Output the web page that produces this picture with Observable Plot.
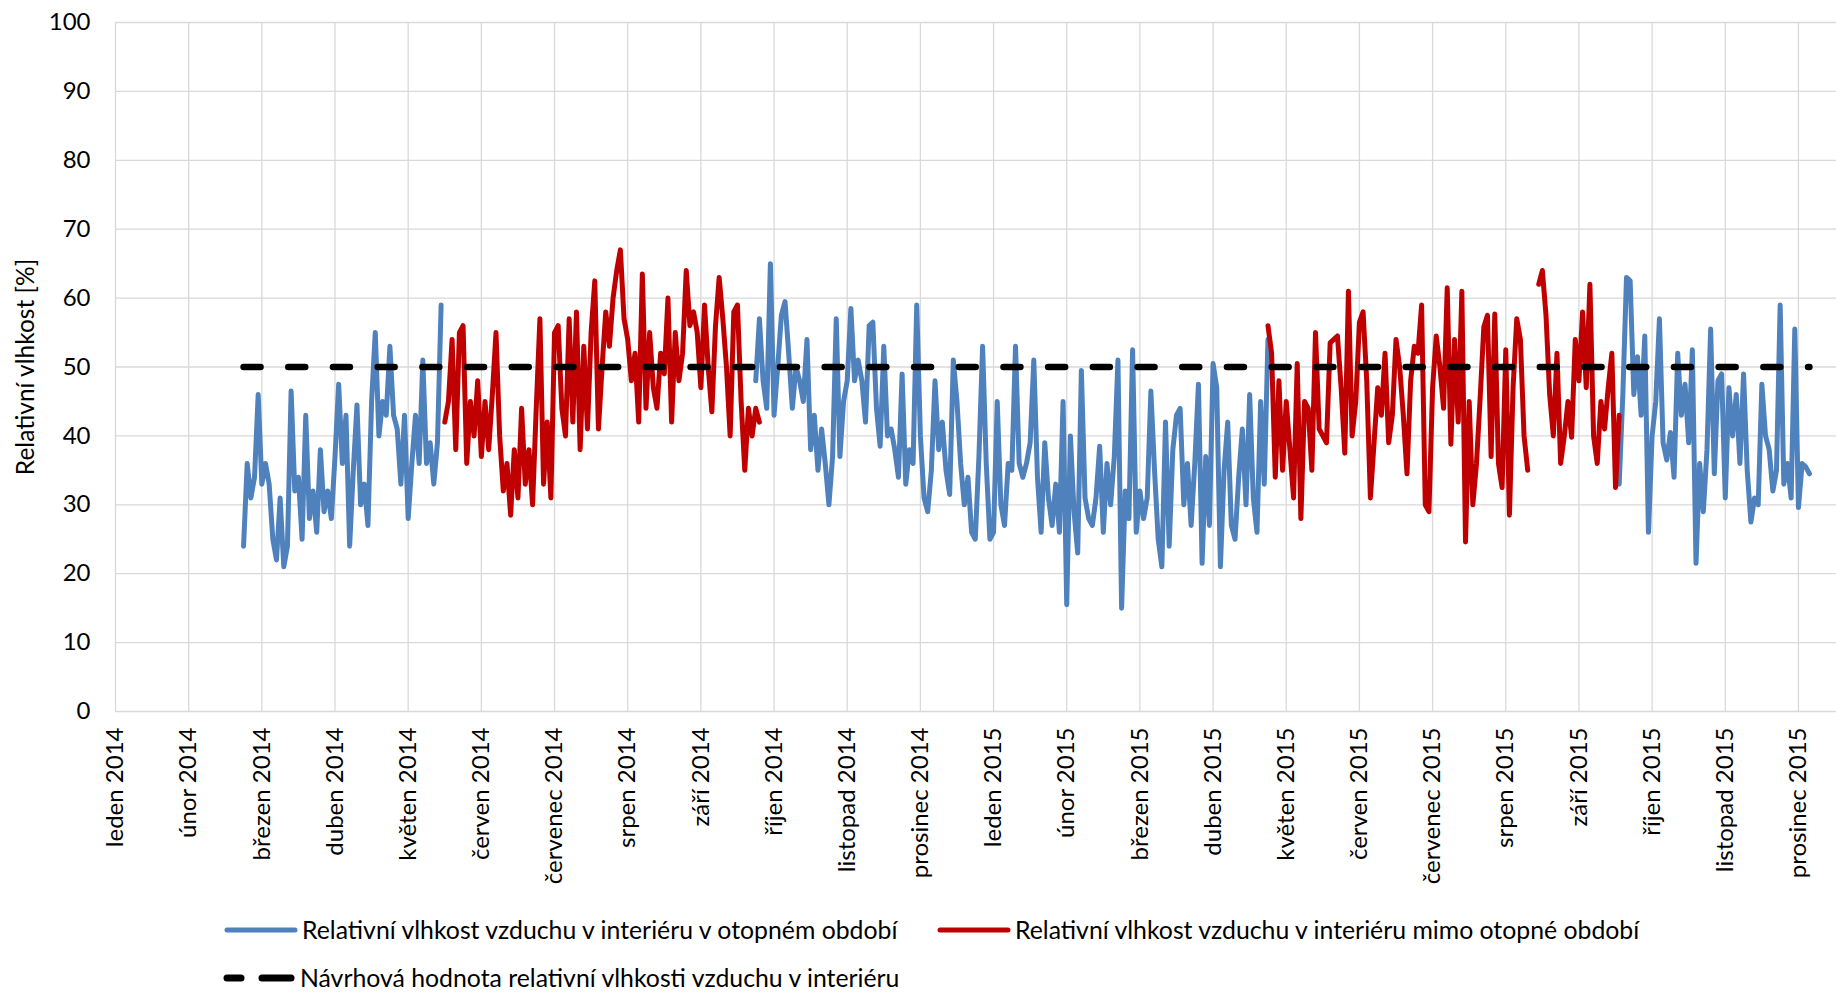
<!DOCTYPE html>
<html>
<head>
<meta charset="utf-8">
<script src="https://cdn.jsdelivr.net/npm/d3@7"></script>
<script src="https://cdn.jsdelivr.net/npm/@observablehq/plot@0.6"></script>
<style>
  html, body { margin: 0; padding: 0; background: #fff; }
  body { width: 1836px; height: 997px; position: relative; overflow: hidden; font-family: Lato, "Open Sans", sans-serif; }
  #chart { position: absolute; left: 0; top: 0; }
  .legend { position: absolute; font-family: Lato, sans-serif; font-size: 24.8px; color: #000; display: flex; align-items: center; white-space: nowrap; }
  .legend svg { margin-right: 4px; }
</style>
</head>
<body>
<div id="chart"></div>
<div class="legend" id="lg1" style="left:224px; top:915px;"></div>
<div class="legend" id="lg2" style="left:937px; top:915px;"></div>
<div class="legend" id="lg3" style="left:222px; top:963px;"></div>
<script>
// ---- Data ----
const monthLabels = ["leden 2014","únor 2014","březen 2014","duben 2014","květen 2014","červen 2014",
  "červenec 2014","srpen 2014","září 2014","říjen 2014","listopad 2014","prosinec 2014",
  "leden 2015","únor 2015","březen 2015","duben 2015","květen 2015","červen 2015",
  "červenec 2015","srpen 2015","září 2015","říjen 2015","listopad 2015","prosinec 2015"];
const yTicks = [0,10,20,30,40,50,60,70,80,90,100];

// readings every 0.05 month (~1.5 day); x position in months since 1 Jan 2014
const sampleStep = 0.05;

// heating season, spring 2014 (blue) – starts 1.75
const heatingSpring2014Start = 1.75;
const heatingSpring2014 = [24,36,31,34,46,33,36,33,25,22,31,21,24,46.5,32,34,25,43,28,32,26,38,29,32,28,37,47.5,36,43,24,
  35,44.5,30,33,27,45,55,40,45,43,53,43,41,33,43,28,36,43,36,51,36,39,33,39,59];

// non-heating season 2014 (red) – starts 4.5
const summer2014Start = 4.5;
const summer2014 = [42,45,54,38,55,56,36,45,40,48,37,45,38,46,55,40,32,36,28.5,38,31,44,33,38,30,44,57,33,42,31,
  55,56,44,40,57,42,58,38,53,41,55,62.5,41,50,58,53,60,64,67,57,54,48,52,42,63.5,44,55,47,44,52,
  49,60,42,55,48,52,64,56,58,55,47,59,50,43.5,56,63,57,50,40,58,59,45,35,44,40,44,42];

// heating season 2014/2015 (blue) – starts 8.75
const heatingWinter2015Start = 8.75;
const heatingWinter2015 = [48,57,48,44,65,43,50,57.5,59.5,52,44,50,48,45,54,38,43,35,41,36,30,37,57,37,45,48,58.5,48,51,48,
  42,56,56.5,44,38.5,53,40,41,38,34,49,33,38,36,59,40,31,29,35,48,38,42,35,31.5,51,45,36,30,34,26,
  25,37,53,36,25,26,45,30,27,36,35,53,36,34,36,39,51,34,26,39,31,27,33,26,45,15.5,40,29,23,49.5,
  31,28,27,31,38.5,26,36,30,37,51,15,32,28,52.5,26,32,28,31,46.5,35,25,21,42,24,38,43,44,30,36,27,
  36,47.5,21.5,37,27,50.5,47,21,35,42,27,25,34,41,30,46,31,26,45,33,54];

// non-heating season 2015 (red) – starts 15.75, null = no record
const summer2015Start = 15.75;
const summer2015 = [56,52,34,48,35,45,38,31,50.5,28,45,44,35,55,41,40,39,53.5,54,54.5,47,37.5,61,40,45,56.5,58,48,31,39,
  47,43,52,39,43,54,50,43,34.5,48,53,52,59,30,29,47,54.5,50,44,61.5,38.8,54,42,61,24.6,45,30,36,45.5,55.8,
  57.5,37,57.7,36,32.5,52.5,28.5,47,57,54,40,35,null,null,62,64,57.5,46,40,52,36,40,45,39.8,54,48,58,47,62,40,
  36,45,41,47,52,32.5,43];

// heating season autumn 2015 (blue) – starts 20.5
const heatingAutumn2015Start = 20.5;
const heatingAutumn2015 = [36,33,46,63,62.5,46,51.5,43,54.5,26,40,45,57,39,36.5,40.5,34,52,43,47.5,39,52.5,21.5,36,29,38,55.5,34.5,48,49,
  31,47,40,46,36,49,35,27.5,31,30,47.5,40,38,32,35,59,33,36,31,55.5,29.6,36,35.5,34.5];

const designValue = 50; // návrhová hodnota [%]

// ---- Build tables ----
const toRows = (start, values) => values.map((v, i) => ({m: start + i * sampleStep, v}));
const blueSeries = [
  toRows(heatingSpring2014Start, heatingSpring2014),
  toRows(heatingWinter2015Start, heatingWinter2015),
  toRows(heatingAutumn2015Start, heatingAutumn2015)
];
const redSeries = [
  toRows(summer2014Start, summer2014),
  toRows(summer2015Start, summer2015)
];
const allRows = blueSeries.concat(redSeries).flat();
const [mMin, mMax] = d3.extent(allRows, d => d.m);
const designLine = [{m: mMin, v: designValue}, {m: mMax, v: designValue}];
const monthIdx = monthLabels.map((_, i) => i);

const BLUE = "#4F81BD", RED = "#C00000", GRID = "#D9D9D9";

const chart = Plot.plot({
  width: 1836,
  height: 891,
  marginLeft: 115,
  marginRight: 0,
  marginTop: 22,
  marginBottom: 180,
  style: {fontFamily: "Lato, sans-serif", fontSize: "24px", color: "#000", background: "transparent", overflow: "visible"},
  x: {type: "linear", domain: [0, 23.52]},
  y: {domain: [0, 100]},
  marks: [
    Plot.gridY(yTicks, {stroke: GRID, strokeOpacity: 1, strokeWidth: 1.3}),
    Plot.gridX(monthIdx, {stroke: GRID, strokeOpacity: 1, strokeWidth: 1.3}),
    Plot.axisY(yTicks, {tickSize: 0, tickPadding: 25, label: null, fontSize: 24}),
    Plot.axisX(monthIdx, {tickSize: 0, tickRotate: -90, tickPadding: 16, textAnchor: "end", lineAnchor: "middle",
      tickFormat: i => monthLabels[i], label: null, fontSize: 24}),
    ...blueSeries.map(s => Plot.line(s, {x: "m", y: "v", stroke: BLUE, strokeWidth: 5, strokeLinejoin: "round", strokeLinecap: "round"})),
    ...redSeries.map(s => Plot.line(s, {x: "m", y: "v", stroke: RED, strokeWidth: 5, strokeLinejoin: "round", strokeLinecap: "round"})),
    Plot.line(designLine, {x: "m", y: "v", stroke: "#000", strokeWidth: 6.5, strokeDasharray: "17,27.7", strokeLinecap: "round"}),
    Plot.text(["Relativní vlhkost [%]"], {frameAnchor: "left", textAnchor: "middle", lineAnchor: "middle", rotate: -90, dx: -89, fontSize: 24.5, fill: "#000"})
  ]
});
document.getElementById("chart").appendChild(chart);

// ---- Legend ----
function swatch(color, dashed) {
  const ns = "http://www.w3.org/2000/svg";
  const svg = document.createElementNS(ns, "svg");
  svg.setAttribute("width", 74); svg.setAttribute("height", 12);
  const segs = dashed ? [[5, 19], [40, 69]] : [[3, 71]];
  for (const [a, b] of segs) {
    const l = document.createElementNS(ns, "line");
    l.setAttribute("x1", a); l.setAttribute("x2", b); l.setAttribute("y1", 6); l.setAttribute("y2", 6);
    l.setAttribute("stroke", color); l.setAttribute("stroke-width", dashed ? 7 : 5);
    l.setAttribute("stroke-linecap", "round");
    svg.appendChild(l);
  }
  return svg;
}
const legendItems = [
  ["lg1", BLUE, false, "Relativní vlhkost vzduchu v interiéru v otopném období"],
  ["lg2", RED, false, "Relativní vlhkost vzduchu v interiéru mimo otopné období"],
  ["lg3", "#000", true, "Návrhová hodnota relativní vlhkosti vzduchu v interiéru"]
];
for (const [id, color, dashed, label] of legendItems) {
  const el = document.getElementById(id);
  el.appendChild(swatch(color, dashed));
  const span = document.createElement("span");
  span.textContent = label;
  el.appendChild(span);
}
</script>
</body>
</html>
